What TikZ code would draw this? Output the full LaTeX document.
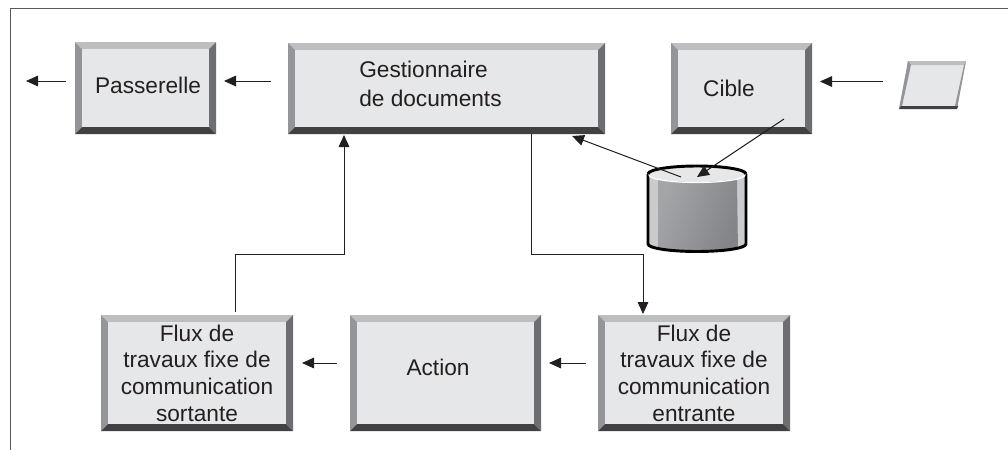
\documentclass[tikz,border=0pt]{standalone}
\usepackage{fontspec}
\setmainfont{Liberation Sans}
\usetikzlibrary{arrows.meta,calc}
\definecolor{face}{HTML}{E6E7E8}
\definecolor{bevT}{HTML}{BCBEC0}
\definecolor{bevL}{HTML}{939598}
\definecolor{bevR}{HTML}{6D6E71}
\definecolor{bevB}{HTML}{414042}
\definecolor{ink}{HTML}{231F20}
\tikzset{
  lbl/.style={font=\fontsize{17pt}{20pt}\selectfont,text=ink,align=center,inner sep=0pt},
  conn/.style={draw=ink,line width=0.75pt,-{Triangle[length=9pt,width=8pt]}},
  boxnode/.style={inner sep=0pt,outer sep=0pt}
}
% name, x1, y1, x2, y2 (pixels, y downwards)
\newcommand{\bevelbox}[5]{%
  \fill[bevT] (#2,-#3) -- (#4,-#3) -- (#4-7,-#3-7) -- (#2+7,-#3-7) -- cycle;
  \fill[bevL] (#2,-#3) -- (#2+7,-#3-7) -- (#2+7,-#5+7) -- (#2,-#5) -- cycle;
  \fill[bevR] (#4,-#3) -- (#4-7,-#3-7) -- (#4-7,-#5+7) -- (#4,-#5) -- cycle;
  \fill[bevB] (#2,-#5) -- (#2+7,-#5+7) -- (#4-7,-#5+7) -- (#4,-#5) -- cycle;
  \fill[face] (#2+7,-#3-7) rectangle (#4-7,-#5+7);
  \coordinate (#1) at ({(#2+#4)/2},{-(#3+#5)/2});
}
\begin{document}
\begin{tikzpicture}[x=0.75pt,y=0.75pt]
\useasboundingbox (0,0) rectangle (1008,-450);
\draw[draw=ink!75,line width=0.75pt] (10,-450) -- (10,-8.5) -- (1008,-8.5);

\bevelbox{pass}{75}{42}{216}{134}
\bevelbox{gest}{288}{43}{605}{134}
\bevelbox{cible}{671}{43}{812}{134}
\bevelbox{fsort}{101}{315}{293}{431}
\bevelbox{action}{350}{315}{541}{431}
\bevelbox{fent}{598}{315}{790}{431}

\node[lbl] (tpass) at (148,-85) {Passerelle};
\node[lbl,align=left,anchor=west] (tgest) at (359,-84) {Gestionnaire\\[2pt]de documents};
\node[lbl] (tcible) at (729,-88) {Cible};
\node[lbl] (tact) at (438,-367) {Action};
\node[lbl] (tfs) at (197,-373) {Flux de\\travaux fixe de\\communication\\sortante};
\node[lbl] (tfe) at (694,-373) {Flux de\\travaux fixe de\\communication\\entrante};

% parallelogram
\fill[face] (908,-61) -- (966,-61) -- (957,-109) -- (899,-109) -- cycle;
\fill[bevT] (908,-61) -- (966,-61) -- (965,-65) -- (907,-65) -- cycle;
\fill[bevL] (908,-61) -- (911,-65) -- (902,-106) -- (899,-109) -- cycle;
\fill[bevL] (966,-61) -- (964,-65) -- (955,-106) -- (957,-109) -- cycle;
\fill[bevB] (899,-109) -- (901,-106) -- (958,-106) -- (957,-109) -- cycle;
\coordinate (para) at (933,-85);

% cylinder
\begin{scope}
  \clip (648,-173) -- (648,-244) arc[start angle=180,end angle=360,x radius=49,y radius=7.5] -- (746,-173) -- cycle;
  \fill[bevT!80!white] (648,-173) rectangle (746,-252);
  \shade[left color=bevL!85!white,right color=bevR!85!white,shading angle=70] (658,-180) -- (658,-252) -- (738,-252) -- (737,-180) -- cycle;
\end{scope}
\draw[draw=black,line width=2.2pt] (648,-174) -- (648,-244) arc[start angle=180,end angle=360,x radius=49,y radius=7.5] -- (746,-174);
\fill[face] (648,-174) arc[start angle=180,end angle=360,x radius=49,y radius=8] arc[start angle=0,end angle=180,x radius=49,y radius=8];
\draw[draw=white,line width=0.9pt] (649,-175) arc[start angle=180,end angle=360,x radius=48,y radius=7.5];
\draw[draw=black,line width=2.2pt] (648,-174) arc[start angle=180,end angle=0,x radius=49,y radius=8];
\coordinate (cyl) at (697,-174);

% connector ends
\coordinate (a1s) at (66,-81);   \coordinate (a1e) at (26,-81);
\coordinate (a2s) at (271,-81);  \coordinate (a2e) at (224,-81);
\coordinate (a3s) at (883,-81.5);\coordinate (a3e) at (820,-81.5);
\coordinate (a4s) at (681,-177); \coordinate (a4e) at (572,-136);
\coordinate (a5s) at (784,-119); \coordinate (a5e) at (697,-177);
\coordinate (a6s) at (531,-134); \coordinate (a6m) at (531,-254); \coordinate (a6n) at (643,-254); \coordinate (a6e) at (643,-314);
\coordinate (a7s) at (235,-312); \coordinate (a7m) at (235,-254); \coordinate (a7n) at (344,-254); \coordinate (a7e) at (344,-135);
\coordinate (a8s) at (337,-363); \coordinate (a8e) at (302,-363);
\coordinate (a9s) at (586,-363); \coordinate (a9e) at (549,-363);

\draw[conn] (a1s) -- (a1e);
\draw[conn] (a2s) -- (a2e);
\draw[conn] (a3s) -- (a3e);
\draw[conn] (a4s) -- (a4e);
\draw[conn] (a5s) -- (a5e);
\draw[conn] (a6s) -- (a6m) -- (a6n) -- (a6e);
\draw[conn] (a7s) -- (a7m) -- (a7n) -- (a7e);
\draw[conn] (a8s) -- (a8e);
\draw[conn] (a9s) -- (a9e);
\end{tikzpicture}
\end{document}
